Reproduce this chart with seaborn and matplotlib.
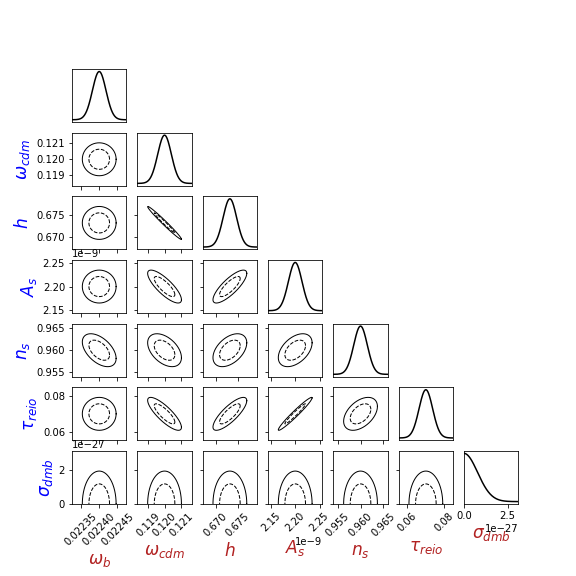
import numpy as np
import matplotlib
matplotlib.use('Agg')
import matplotlib.pyplot as plt
import seaborn as sns

# 参数名
labels = [r'$\omega_b$', r'$\omega_{cdm}$', r'$h$', r'$A_s$', r'$n_s$',
          r'$\tau_{reio}$', r'$\sigma_{dmb}$']
# 中心值和 1σ 误差
means = [0.0224, 0.1200, 0.6732, 2.20e-9, 0.960, 0.070, 0.0]
sigmas = [1.88e-5, 4.1e-4, 1.55e-3, 1.40e-11, 1.50e-3, 3.70e-3, 0.78e-27]
# 相关系数 (下三角读图估计)
corr = [
    [1.00, 0.00, 0.00, 0.00, -0.50, 0.00, 0.00],
    [0.00, 1.00, -0.985, -0.80, -0.45, -0.82, 0.00],
    [0.00, -0.985, 1.00, 0.80, 0.45, 0.80, 0.00],
    [0.00, -0.80, 0.80, 1.00, 0.45, 0.97, 0.00],
    [-0.50, -0.45, 0.45, 0.45, 1.00, 0.45, 0.00],
    [0.00, -0.82, 0.80, 0.97, 0.45, 1.00, 0.00],
    [0.00, 0.00, 0.00, 0.00, 0.00, 0.00, 1.00],
]
lower_bound = [None, None, None, None, None, None, 0.0]

# Δχ² 对应 1σ / 2σ 二维等值线
levels = [2.30, 6.17]
styles = ['--', '-']

n = len(labels)


def limits(k):
    lo = means[k] - 4 * sigmas[k]
    hi = means[k] + 4 * sigmas[k]
    if lower_bound[k] is not None:
        lo = lower_bound[k]
    return lo, hi


fig, axes = plt.subplots(n, n, figsize=(8, 8))
fig.subplots_adjust(bottom=0.125)

t = np.linspace(0, 2 * np.pi, 300)

for i in range(n):
    for j in range(n):
        ax = axes[i, j]
        if j > i:
            ax.axis('off')
            continue
        if i == j:
            lo, hi = limits(i)
            x = np.linspace(lo, hi, 300)
            y = np.exp(-0.5 * ((x - means[i]) / sigmas[i]) ** 2)
            sns.lineplot(x=x, y=y, color='k', lw=1.5, ax=ax)
            ax.set_xlim(lo, hi)
            ax.set_yticks([])
            if i < n - 1:
                ax.set_xticks([])
            else:
                ax.set_xlabel(labels[j], color='firebrick', fontsize=17)
            continue

        sx, sy = sigmas[j], sigmas[i]
        rho = corr[i][j]
        cov = np.array([[sx ** 2, rho * sx * sy], [rho * sx * sy, sy ** 2]])
        L = np.linalg.cholesky(cov)
        for lev, ls in zip(levels, styles):
            pts = L @ np.vstack([np.cos(t), np.sin(t)]) * np.sqrt(lev)
            sns.lineplot(x=pts[0] + means[j], y=pts[1] + means[i], sort=False,
                         estimator=None, color='k', lw=1, linestyle=ls, ax=ax)
        ax.set_xlim(*limits(j))
        ax.set_ylim(*limits(i))

        if j == 0:
            ax.set_ylabel(labels[i], color='blue', fontsize=17)
        else:
            ax.tick_params(axis='y', labelleft=False)
        if i == n - 1:
            ax.set_xlabel(labels[j], color='firebrick', fontsize=17)
            ax.tick_params(axis='x', labelrotation=45)
        else:
            ax.tick_params(axis='x', labelbottom=False)

fig.savefig('out.png', dpi=72)
